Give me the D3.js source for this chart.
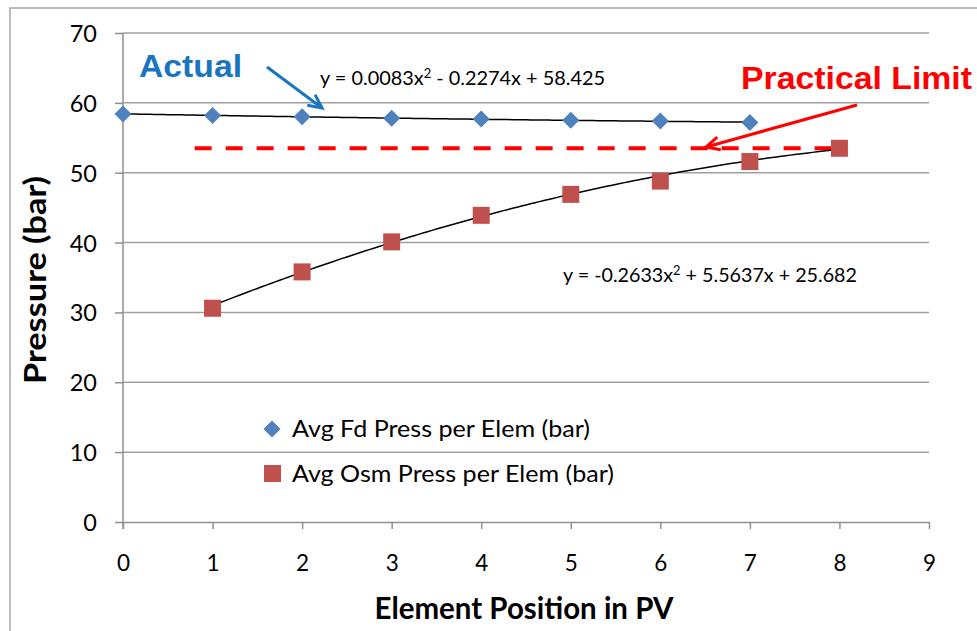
<!DOCTYPE html>
<html><head><meta charset="utf-8">
<script src="https://cdn.jsdelivr.net/npm/d3@7"></script>
<style>body{margin:0;background:#fff}svg{display:block}</style>
</head><body>
<script>
// ---- data ----
const fdPositions = [0, 1, 2, 3, 4, 5, 6, 7];
const fdValues = [58.4, 58.2, 58.0, 57.8, 57.7, 57.5, 57.4, 57.2];
const osmPositions = [1, 2, 3, 4, 5, 6, 7, 8];
const osmValues = [30.6, 35.8, 40.1, 43.9, 46.9, 48.8, 51.6, 53.5];
const fdTrendCoef = [0.0083, -0.2274, 58.425];   // a, b, c
const osmTrendCoef = [-0.2633, 5.5637, 25.682];
const practicalLimit = 53.5;
const practicalLimitRange = [0.8, 7.95];
const xTicks = [0, 1, 2, 3, 4, 5, 6, 7, 8, 9];
const yTicks = [0, 10, 20, 30, 40, 50, 60, 70];
const seriesNames = ["Avg Fd Press per Elem (bar)", "Avg Osm Press per Elem (bar)"];

const W = 977, H = 631;
const svg = d3.select("body").append("svg").attr("width", W).attr("height", H);
const x = d3.scaleLinear().domain([0, 9]).range([123, 929]);
const y = d3.scaleLinear().domain([0, 70]).range([522, 33]);
const CAL = "Lato, 'Open Sans', sans-serif";
const ARIAL = "'Liberation Sans', Arial, sans-serif";

// outer chart border
svg.append("rect").attr("x", 10).attr("y", 8).attr("width", 1000).attr("height", 700)
  .attr("fill", "none").attr("stroke", "#a6a6a6").attr("stroke-width", 1.5);

// gridlines
svg.append("g").selectAll("line").data(yTicks.filter(d => d > 0)).join("line")
  .attr("x1", x(0)).attr("x2", x(9)).attr("y1", d => y(d)).attr("y2", d => y(d))
  .attr("stroke", "#a0a0a0").attr("stroke-width", 1.5);

// y axis
const gy = svg.append("g").attr("transform", `translate(${x(0)},0)`)
  .call(d3.axisLeft(y).tickValues(yTicks).tickSize(8).tickSizeOuter(0).tickPadding(18));
gy.select(".domain").attr("stroke", "#909090").attr("stroke-width", 1.5)
  .attr("d", `M0,${y(70)}V${y(0) + 7}`);
gy.selectAll(".tick line").attr("stroke", "#909090").attr("stroke-width", 1.5);
gy.selectAll(".tick text").attr("font-family", CAL).attr("font-size", 23.5).attr("fill", "#000")
  .attr("dy", "0.36em");

// x axis
const gx = svg.append("g").attr("transform", `translate(0,${y(0)})`)
  .call(d3.axisBottom(x).tickValues(xTicks).tickSize(7).tickSizeOuter(0).tickFormat(d3.format("d")));
gx.select(".domain").attr("stroke", "#909090").attr("stroke-width", 1.5);
gx.selectAll(".tick line").attr("stroke", "#909090").attr("stroke-width", 1.5);
gx.selectAll(".tick text").attr("font-family", CAL).attr("font-size", 22.5).attr("fill", "#000")
  .attr("y", 41).attr("dy", "0.36em");

// axis titles
svg.append("text").attr("x", 524).attr("y", 619).attr("text-anchor", "middle")
  .attr("font-family", CAL).attr("font-weight", "bold").attr("font-size", 30)
  .attr("textLength", 299).attr("lengthAdjust", "spacingAndGlyphs")
  .text("Element Position in PV");
svg.append("text").attr("transform", "translate(46,280) rotate(-90)").attr("text-anchor", "middle")
  .attr("font-family", CAL).attr("font-weight", "bold").attr("font-size", 30)
  .attr("textLength", 208).attr("lengthAdjust", "spacingAndGlyphs")
  .text("Pressure (bar)");

// practical limit dashed line
svg.append("line").attr("x1", x(practicalLimitRange[0])).attr("x2", x(practicalLimitRange[1]))
  .attr("y1", y(practicalLimit)).attr("y2", y(practicalLimit))
  .attr("stroke", "#ff0000").attr("stroke-width", 4).attr("stroke-dasharray", "17,14");

// trend lines (from the chart's printed coefficients)
const quad = (c, t) => c[0] * t * t + c[1] * t + c[2];
const line = d3.line().x(d => x(d[0])).y(d => y(d[1]));
function trend(coef, x0, x1) {
  const pts = d3.range(x0, x1 + 1e-9, 0.05).map(t => [t, quad(coef, t)]);
  svg.append("path").attr("d", line(pts)).attr("fill", "none")
    .attr("stroke", "#000").attr("stroke-width", 1.5);
}
trend(fdTrendCoef, 0, 7);
trend(osmTrendCoef, 1, 8);

// markers
const diamond = d3.symbol().type(d3.symbolDiamond2).size(185);
svg.append("g").selectAll("path").data(fdPositions.map((p, i) => [p, fdValues[i]])).join("path")
  .attr("d", diamond).attr("transform", d => `translate(${x(d[0])},${y(d[1])})`)
  .attr("fill", "#4f81bd");
svg.append("g").selectAll("rect").data(osmPositions.map((p, i) => [p, osmValues[i]])).join("rect")
  .attr("x", d => x(d[0]) - 8.5).attr("y", d => y(d[1]) - 8.5).attr("width", 17).attr("height", 17)
  .attr("fill", "#c0504d");

// equations
function eq(xp, yp, w, parts) {
  const t = svg.append("text").attr("x", xp).attr("y", yp).attr("font-family", CAL)
    .attr("font-size", 20).attr("fill", "#000")
    .attr("textLength", w).attr("lengthAdjust", "spacingAndGlyphs");
  t.append("tspan").text(parts[0]);
  t.append("tspan").attr("dy", -7).attr("font-size", 13).text("2");
  t.append("tspan").attr("dy", 7).text(parts[1]);
}
eq(320, 85, 285, ["y = 0.0083x", " - 0.2274x + 58.425"]);
eq(563, 282, 294, ["y = -0.2633x", " + 5.5637x + 25.682"]);

// legend
svg.append("path").attr("d", diamond).attr("transform", "translate(272,429)").attr("fill", "#4f81bd");
svg.append("rect").attr("x", 264).attr("y", 465).attr("width", 17).attr("height", 17).attr("fill", "#c0504d");
svg.append("text").attr("x", 292).attr("y", 437).attr("font-family", CAL).attr("font-size", 23)
  .attr("textLength", 298).attr("lengthAdjust", "spacingAndGlyphs").text(seriesNames[0]);
svg.append("text").attr("x", 292).attr("y", 482).attr("font-family", CAL).attr("font-size", 23)
  .attr("textLength", 322).attr("lengthAdjust", "spacingAndGlyphs").text(seriesNames[1]);

// annotations
svg.append("text").attr("x", 139).attr("y", 77).attr("font-family", ARIAL).attr("font-weight", "bold")
  .attr("font-size", 31).attr("fill", "#1a75bf")
  .attr("textLength", 103).attr("lengthAdjust", "spacingAndGlyphs").text("Actual");
svg.append("text").attr("x", 741).attr("y", 89).attr("font-family", ARIAL).attr("font-weight", "bold")
  .attr("font-size", 31).attr("fill", "#ff0000")
  .attr("textLength", 231).attr("lengthAdjust", "spacingAndGlyphs").text("Practical Limit");

function arrow(x1, y1, x2, y2, color) {
  const a = Math.atan2(y2 - y1, x2 - x1), L = 15, s = 0.45;
  const p1 = [x2 - L * Math.cos(a - s), y2 - L * Math.sin(a - s)];
  const p2 = [x2 - L * Math.cos(a + s), y2 - L * Math.sin(a + s)];
  svg.append("line").attr("x1", x1).attr("y1", y1).attr("x2", x2 - 2 * Math.cos(a)).attr("y2", y2 - 2 * Math.sin(a))
    .attr("stroke", color).attr("stroke-width", 3);
  svg.append("path").attr("d", `M${p1}L${x2},${y2}L${p2}`).attr("fill", "none")
    .attr("stroke", color).attr("stroke-width", 3).attr("stroke-linejoin", "miter");
}
arrow(267, 67, 322, 108, "#1a75bf");
arrow(857, 105, 706, 147, "#ff0000");
</script>
</body></html>
